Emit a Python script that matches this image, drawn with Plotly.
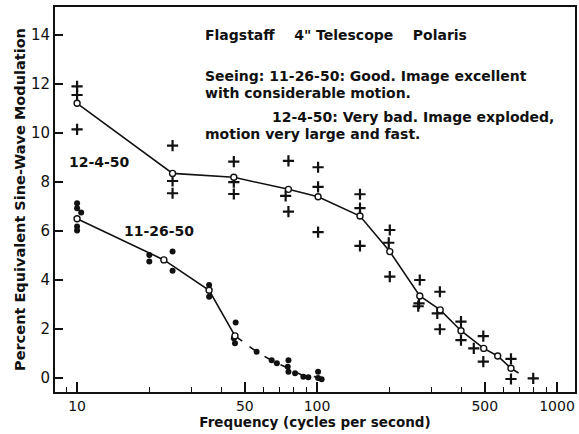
import plotly.graph_objects as go

# ---- 12-4-50 (very bad seeing): individual readings (+) ----
bad_x = [10, 10, 10, 25, 25, 25, 45, 45, 45, 76, 74, 76, 101, 101, 101,
         151, 151, 151, 201, 199, 201, 268, 266, 264, 325, 317, 325,
         398, 398, 450, 493, 493, 643, 643, 796]
bad_y = [11.9, 11.55, 10.15, 9.48, 8.04, 7.54, 8.83, 7.99, 7.51, 8.86, 7.43, 6.79,
         8.6, 7.8, 5.95, 7.5, 6.93, 5.39, 6.04, 5.52, 4.14, 4.0, 3.05, 2.93,
         3.52, 2.64, 1.99, 2.3, 1.55, 1.21, 1.71, 0.67, 0.78, -0.04, -0.01]
# means (open circles) and connecting curve
bad_mean_x = [10, 25, 45, 76, 101, 151, 201, 268, 326, 398, 495, 566, 643]
bad_mean_y = [11.21, 8.35, 8.19, 7.7, 7.4, 6.61, 5.16, 3.35, 2.78, 1.93, 1.21, 0.9, 0.4]
bad_tail_x = [643, 720]
bad_tail_y = [0.4, 0.1]

# ---- 11-26-50 (good seeing): individual readings (filled dots) ----
good_x = [10, 10, 10.4, 10, 10, 20, 20, 25, 25, 35.5, 35.5,
          45.8, 45, 45.5, 56, 64.7, 68, 76, 75.5, 76, 81, 87.7, 92, 101, 101, 104.5]
good_y = [7.13, 6.93, 6.75, 6.18, 6.02, 5.02, 4.75, 5.16, 4.38, 3.8, 3.32,
          2.27, 1.62, 1.42, 1.07, 0.73, 0.6, 0.73, 0.46, 0.26, 0.19, 0.05, 0.03, 0.26, 0.0, -0.05]
good_mean_x = [10, 23, 35.5, 45.5]
good_mean_y = [6.5, 4.82, 3.58, 1.72]
good_tail_x = [45.5, 56, 66, 76, 88, 100]
good_tail_y = [1.72, 1.07, 0.67, 0.4, 0.08, 0.05]

y_ticks = [0, 2, 4, 6, 8, 10, 12, 14]
x_ticks = [10, 50, 100, 500, 1000]
x_tick_text = ["10", "50", "100", "500", "1000"]

FONT = "DejaVu Sans"
INK = "#111111"

fig = go.Figure()

# connecting curves
fig.add_trace(go.Scatter(x=bad_mean_x, y=bad_mean_y, mode="lines",
                         line=dict(color=INK, width=1.6), hoverinfo="skip", showlegend=False))
fig.add_trace(go.Scatter(x=bad_tail_x, y=bad_tail_y, mode="lines",
                         line=dict(color=INK, width=1.6, dash="dash"), hoverinfo="skip", showlegend=False))
fig.add_trace(go.Scatter(x=good_mean_x, y=good_mean_y, mode="lines",
                         line=dict(color=INK, width=1.6), hoverinfo="skip", showlegend=False))
fig.add_trace(go.Scatter(x=good_tail_x, y=good_tail_y, mode="lines",
                         line=dict(color=INK, width=1.6, dash="dash"), hoverinfo="skip", showlegend=False))

# readings
fig.add_trace(go.Scatter(x=bad_x, y=bad_y, mode="markers", name="12-4-50",
                         marker=dict(symbol="cross-thin", size=8, color=INK,
                                     line=dict(color=INK, width=2.2)),
                         showlegend=False))
fig.add_trace(go.Scatter(x=good_x, y=good_y, mode="markers", name="11-26-50",
                         marker=dict(symbol="circle", size=6, color=INK,
                                     line=dict(color=INK, width=0)),
                         showlegend=False))
# means
fig.add_trace(go.Scatter(x=bad_mean_x, y=bad_mean_y, mode="markers", name="12-4-50 mean",
                         marker=dict(symbol="circle", size=6, color="white",
                                     line=dict(color=INK, width=1.4)),
                         showlegend=False))
fig.add_trace(go.Scatter(x=good_mean_x, y=good_mean_y, mode="markers", name="11-26-50 mean",
                         marker=dict(symbol="circle", size=6, color="white",
                                     line=dict(color=INK, width=1.4)),
                         showlegend=False))

L, R, T, B = 55, 4, 7, 42
W, H = 579, 434
pw, ph = W - L - R, H - T - B

def px(x):
    return (x - L) / pw

def py(y):
    return (H - B - y) / ph

ann_font = dict(family=FONT, size=14, color=INK, weight="bold")
notes = [
    ("Flagstaff    4\" Telescope    Polaris", 203, 35),
    ("Seeing: 11-26-50: Good. Image excellent", 203, 76),
    ("with considerable motion.", 203, 93),
    ("12-4-50: Very bad. Image exploded,", 270, 117),
    ("motion very large and fast.", 203, 134),
    ("12-4-50", 67, 162),
    ("11-26-50", 122, 231),
]
for txt, x0, y0 in notes:
    fig.add_annotation(text=txt, xref="paper", yref="paper", x=px(x0), y=py(y0),
                       xanchor="left", yanchor="middle", showarrow=False, font=ann_font)

fig.update_layout(
    width=W, height=H,
    margin=dict(l=L, r=R, t=T, b=B),
    paper_bgcolor="white", plot_bgcolor="white",
    font=dict(family=FONT, color=INK),
    xaxis=dict(type="log", range=[0.908, 3.075], automargin=False,
               tickvals=x_ticks, ticktext=x_tick_text,
               ticks="inside", ticklen=10, tickwidth=1.5, tickcolor=INK,
               minor=dict(ticks="inside", ticklen=5, tickwidth=1.2, tickcolor=INK, dtick="D1"),
               showline=True, linecolor=INK, linewidth=2, mirror=True,
               showgrid=False, zeroline=False,
               tickfont=dict(family=FONT, size=14, color=INK),
               title=dict(text="Frequency (cycles per second)",
                          font=dict(family=FONT, size=13.5, color=INK, weight="bold"), standoff=0)),
    yaxis=dict(range=[-0.57, 15.14], tickvals=y_ticks, automargin=False,
               ticks="inside", ticklen=8, tickwidth=1.5, tickcolor=INK,
               showline=True, linecolor=INK, linewidth=2, mirror=True,
               showgrid=False, zeroline=False,
               tickfont=dict(family=FONT, size=15, color=INK),
               title=dict(text="Percent Equivalent Sine-Wave Modulation",
                          font=dict(family=FONT, size=14.5, color=INK, weight="bold"), standoff=2)),
)

fig.write_html("out.html", config={"displayModeBar": False},
               post_script="document.body.style.margin='0';")
